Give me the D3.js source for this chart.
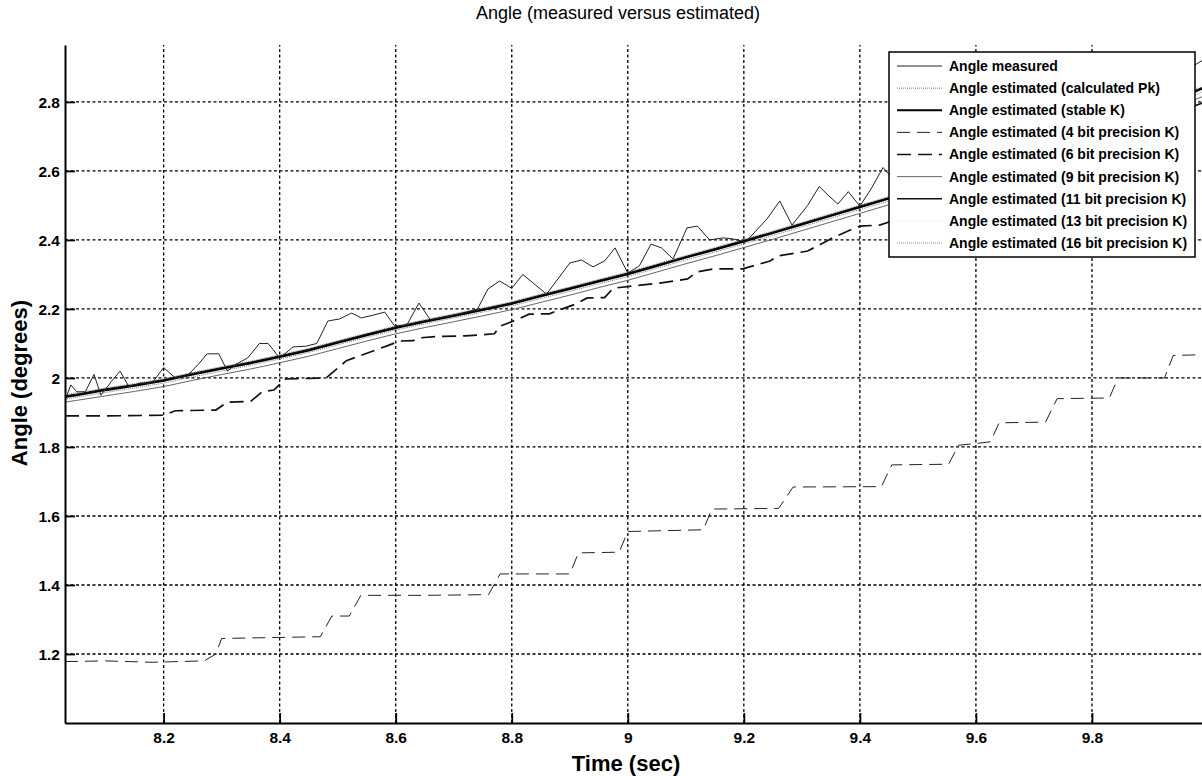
<!DOCTYPE html>
<html>
<head>
<meta charset="utf-8">
<script src="https://cdn.jsdelivr.net/npm/d3@7"></script>
<style>
  body { margin: 0; background: #fff; }
  svg { display: block; font-family: "Liberation Sans", Arial, sans-serif; }
  .tick-label { font-size: 15.5px; font-weight: bold; fill: #000; }
  .legend-text { font-size: 14px; font-weight: bold; fill: #000; }
</style>
</head>
<body>
<svg id="chart" width="1202" height="776"></svg>
<script>
// values
var xTicks = [8.2, 8.4, 8.6, 8.8, 9, 9.2, 9.4, 9.6, 9.8];
var yTicks = [1.2, 1.4, 1.6, 1.8, 2, 2.2, 2.4, 2.6, 2.8];

var timeMeasured = [8.030, 8.040, 8.050, 8.065, 8.080, 8.092, 8.110, 8.125, 8.140, 8.160,
  8.180, 8.200, 8.220, 8.240, 8.260, 8.275, 8.295, 8.310, 8.325, 8.345,
  8.365, 8.380, 8.400, 8.423, 8.445, 8.464, 8.483, 8.503, 8.524, 8.541,
  8.561, 8.581, 8.598, 8.619, 8.640, 8.660, 8.680, 8.700, 8.720, 8.741,
  8.759, 8.779, 8.800, 8.819, 8.860, 8.900, 8.920, 8.940, 8.960, 8.978,
  9.000, 9.020, 9.040, 9.058, 9.078, 9.102, 9.120, 9.141, 9.164, 9.181,
  9.203, 9.240, 9.262, 9.283, 9.310, 9.330, 9.345, 9.362, 9.380, 9.400,
  9.420, 9.440, 9.460, 9.500, 9.550, 9.600, 9.650, 9.700, 9.750, 9.800,
  9.850, 9.900, 9.950, 9.990, 10.00];
var angleMeasured = [1.935, 1.980, 1.960, 1.960, 2.010, 1.950, 1.990, 2.020, 1.975, 1.985,
  1.985, 2.030, 2.000, 2.005, 2.040, 2.070, 2.070, 2.020, 2.040, 2.058,
  2.100, 2.100, 2.058, 2.090, 2.092, 2.100, 2.165, 2.171, 2.188, 2.174,
  2.182, 2.191, 2.151, 2.153, 2.217, 2.168, 2.175, 2.182, 2.190, 2.200,
  2.258, 2.281, 2.260, 2.300, 2.243, 2.333, 2.342, 2.322, 2.339, 2.377,
  2.304, 2.325, 2.388, 2.377, 2.345, 2.435, 2.440, 2.400, 2.406, 2.403,
  2.394, 2.461, 2.513, 2.443, 2.500, 2.555, 2.530, 2.504, 2.540, 2.498,
  2.550, 2.610, 2.570, 2.580, 2.600, 2.640, 2.650, 2.700, 2.720, 2.760,
  2.800, 2.840, 2.880, 2.920, 2.905];

var timeEst = [8.03, 8.05, 8.10, 8.15, 8.20, 8.25, 8.30, 8.35, 8.40, 8.45,
  8.50, 8.55, 8.60, 8.65, 8.70, 8.75, 8.80, 8.85, 8.90, 8.95,
  9.00, 9.05, 9.10, 9.15, 9.20, 9.25, 9.30, 9.35, 9.40, 9.45,
  9.50, 9.55, 9.60, 9.65, 9.70, 9.75, 9.80, 9.85, 9.90, 9.95, 10.00];
var angleCalcPk = [1.938, 1.944, 1.958, 1.971, 1.985, 2.003, 2.020, 2.037, 2.055, 2.074,
  2.096, 2.118, 2.139, 2.157, 2.174, 2.191, 2.209, 2.230, 2.251, 2.273,
  2.294, 2.318, 2.342, 2.365, 2.389, 2.413, 2.438, 2.463, 2.488, 2.513,
  2.538, 2.565, 2.592, 2.618, 2.647, 2.676, 2.704, 2.734, 2.767, 2.800, 2.835];
var angleStableK = [1.945, 1.950, 1.965, 1.978, 1.992, 2.010, 2.027, 2.043, 2.061, 2.080,
  2.102, 2.124, 2.145, 2.163, 2.180, 2.197, 2.215, 2.237, 2.258, 2.280,
  2.301, 2.325, 2.349, 2.372, 2.396, 2.420, 2.445, 2.470, 2.495, 2.520,
  2.545, 2.572, 2.600, 2.626, 2.655, 2.684, 2.712, 2.742, 2.776, 2.810, 2.846];
var angle9bit = [1.930, 1.935, 1.948, 1.961, 1.975, 1.993, 2.010, 2.026, 2.044, 2.063,
  2.085, 2.107, 2.128, 2.146, 2.163, 2.180, 2.198, 2.219, 2.240, 2.262,
  2.283, 2.307, 2.331, 2.354, 2.378, 2.402, 2.427, 2.452, 2.477, 2.502,
  2.527, 2.554, 2.581, 2.607, 2.636, 2.664, 2.692, 2.722, 2.755, 2.788, 2.822];
var angle11bit = [1.948, 1.953, 1.968, 1.981, 1.995, 2.013, 2.030, 2.046, 2.064, 2.083,
  2.105, 2.127, 2.148, 2.166, 2.183, 2.200, 2.218, 2.240, 2.261, 2.283,
  2.304, 2.328, 2.352, 2.375, 2.399, 2.423, 2.448, 2.473, 2.498, 2.523,
  2.548, 2.575, 2.603, 2.629, 2.658, 2.687, 2.715, 2.745, 2.779, 2.813, 2.849];
var angle13bit = [1.946, 1.951, 1.966, 1.979, 1.993, 2.011, 2.028, 2.044, 2.062, 2.081,
  2.103, 2.125, 2.146, 2.164, 2.181, 2.198, 2.216, 2.238, 2.259, 2.281,
  2.302, 2.326, 2.350, 2.373, 2.397, 2.421, 2.446, 2.471, 2.496, 2.521,
  2.546, 2.573, 2.601, 2.627, 2.656, 2.685, 2.713, 2.743, 2.777, 2.811, 2.847];
var angle16bit = [1.952, 1.957, 1.971, 1.984, 1.998, 2.016, 2.033, 2.049, 2.067, 2.086,
  2.108, 2.130, 2.151, 2.169, 2.186, 2.203, 2.221, 2.243, 2.264, 2.286,
  2.307, 2.331, 2.355, 2.378, 2.402, 2.426, 2.451, 2.476, 2.501, 2.526,
  2.551, 2.578, 2.606, 2.632, 2.661, 2.690, 2.718, 2.748, 2.782, 2.816, 2.852];

var time4bit = [8.03, 8.10, 8.18, 8.27, 8.29, 8.30, 8.40, 8.47, 8.49, 8.52,
  8.54, 8.65, 8.76, 8.78, 8.90, 8.915, 8.985, 9.00, 9.13, 9.145,
  9.26, 9.285, 9.437, 9.455, 9.553, 9.57, 9.60, 9.625, 9.64, 9.72,
  9.74, 9.83, 9.845, 9.925, 9.94, 10.0];
var angle4bit = [1.178, 1.180, 1.176, 1.180, 1.200, 1.245, 1.248, 1.250, 1.310, 1.310,
  1.370, 1.370, 1.372, 1.432, 1.432, 1.493, 1.495, 1.555, 1.560, 1.620,
  1.622, 1.684, 1.685, 1.748, 1.750, 1.805, 1.810, 1.815, 1.870, 1.872,
  1.940, 1.942, 2.000, 2.000, 2.065, 2.068];

var time6bit = [8.03, 8.10, 8.20, 8.22, 8.29, 8.31, 8.35, 8.37, 8.39, 8.41,
  8.48, 8.515, 8.585, 8.607, 8.63, 8.64, 8.67, 8.72, 8.77, 8.78,
  8.81, 8.83, 8.865, 8.877, 8.91, 8.93, 8.96, 8.975, 9.01, 9.055,
  9.103, 9.119, 9.147, 9.198, 9.245, 9.26, 9.29, 9.31, 9.343, 9.353,
  9.388, 9.40, 9.434, 9.50, 9.60, 9.70, 9.80, 9.90, 9.99, 10.0];
var angle6bit = [1.890, 1.890, 1.892, 1.905, 1.907, 1.930, 1.932, 1.960, 1.965, 1.997,
  2.000, 2.050, 2.093, 2.107, 2.108, 2.116, 2.120, 2.122, 2.128, 2.150,
  2.170, 2.185, 2.186, 2.194, 2.214, 2.232, 2.233, 2.260, 2.267, 2.275,
  2.287, 2.307, 2.316, 2.316, 2.339, 2.354, 2.362, 2.368, 2.397, 2.406,
  2.432, 2.440, 2.443, 2.480, 2.550, 2.610, 2.670, 2.740, 2.797, 2.800];

var seriesNames = ["Angle measured", "Angle estimated (calculated Pk)", "Angle estimated (stable K)",
  "Angle estimated (4 bit precision K)", "Angle estimated (6 bit precision K)",
  "Angle estimated (9 bit precision K)", "Angle estimated (11 bit precision K)",
  "Angle estimated (13 bit precision K)", "Angle estimated (16 bit precision K)"];

function zipSeries(ts, vs) {
  return ts.map(function(t, i) { return {t: t, v: vs[i]}; });
}

var series = [
  {name: seriesNames[0], data: zipSeries(timeMeasured, angleMeasured), color: "#222", width: 1, dash: null},
  {name: seriesNames[1], data: zipSeries(timeEst, angleCalcPk), color: "#777", width: 1, dash: "1,1"},
  {name: seriesNames[2], data: zipSeries(timeEst, angleStableK), color: "#000", width: 2.2, dash: null},
  {name: seriesNames[3], data: zipSeries(time4bit, angle4bit), color: "#222", width: 1, dash: "13,7"},
  {name: seriesNames[4], data: zipSeries(time6bit, angle6bit), color: "#111", width: 1.7, dash: "14,7"},
  {name: seriesNames[5], data: zipSeries(timeEst, angle9bit), color: "#666", width: 1, dash: null},
  {name: seriesNames[6], data: zipSeries(timeEst, angle11bit), color: "#111", width: 1.3, dash: null},
  {name: seriesNames[7], data: zipSeries(timeEst, angle13bit), color: "#f4f4f4", width: 1, dash: null},
  {name: seriesNames[8], data: zipSeries(timeEst, angle16bit), color: "#888", width: 1, dash: "1,1"}
];

var margin = {top: 45, left: 65, bottom: 53},
    svgW = 1202, svgH = 776,
    plotRight = 1208;

var svg = d3.select("#chart");

var x = d3.scaleLinear().domain([8.03, 10]).range([margin.left, plotRight]);
var y = d3.scaleLinear().domain([1.0, 2.965]).range([svgH - margin.bottom, margin.top]);

svg.append("defs").append("clipPath").attr("id", "plotClip")
  .append("rect")
  .attr("x", margin.left).attr("y", margin.top)
  .attr("width", plotRight - margin.left)
  .attr("height", y(1.0) - margin.top);

// grid
var grid = svg.append("g").attr("class", "grid");
grid.selectAll("line.vgrid").data(xTicks).enter().append("line")
  .attr("x1", function(d) { return x(d); }).attr("x2", function(d) { return x(d); })
  .attr("y1", y(1.0)).attr("y2", margin.top)
  .attr("stroke", "#000").attr("stroke-width", 1.3).attr("stroke-dasharray", "3,2.5");
grid.selectAll("line.hgrid").data(yTicks).enter().append("line")
  .attr("x1", margin.left).attr("x2", plotRight)
  .attr("y1", function(d) { return y(d); }).attr("y2", function(d) { return y(d); })
  .attr("stroke", "#000").attr("stroke-width", 1.3).attr("stroke-dasharray", "3,2.5");

// data lines
var line = d3.line()
  .x(function(d) { return x(d.t); })
  .y(function(d) { return y(d.v); });

var drawOrder = [7, 3, 4, 5, 1, 2, 6, 8, 0];
var lines = svg.append("g").attr("clip-path", "url(#plotClip)");
drawOrder.forEach(function(i) {
  var s = series[i];
  lines.append("path")
    .datum(s.data)
    .attr("fill", "none")
    .attr("stroke", s.color)
    .attr("stroke-width", s.width)
    .attr("stroke-dasharray", s.dash)
    .attr("d", line);
});

// axes
var xAxis = d3.axisBottom(x).tickValues(xTicks).tickSizeInner(-10).tickSizeOuter(0)
  .tickFormat(d3.format("~g"));
var yAxis = d3.axisLeft(y).tickValues(yTicks).tickSizeInner(-10).tickSizeOuter(0)
  .tickFormat(d3.format("~g"));

var gx = svg.append("g").attr("transform", "translate(0," + y(1.0) + ")").call(xAxis);
var gy = svg.append("g").attr("transform", "translate(" + margin.left + ",0)").call(yAxis);
[gx, gy].forEach(function(g) {
  g.select(".domain").attr("stroke", "#000").attr("stroke-width", 2);
  g.selectAll(".tick line").attr("stroke", "#000").attr("stroke-width", 1.8);
  g.selectAll(".tick text").attr("class", "tick-label").attr("font-family", null).attr("font-size", null);
});
gy.selectAll(".tick text").attr("dy", "0.36em").attr("x", -5);
gx.selectAll(".tick text").attr("dy", "0.72em").attr("y", 9);

// titles
svg.append("text")
  .attr("x", 618).attr("y", 19)
  .attr("text-anchor", "middle")
  .style("font-size", "18px")
  .text("Angle (measured versus estimated)");

svg.append("text")
  .attr("x", 626).attr("y", 771)
  .attr("text-anchor", "middle")
  .style("font-size", "22px")
  .style("font-weight", "bold")
  .text("Time (sec)");

svg.append("text")
  .attr("transform", "translate(27,383) rotate(-90)")
  .attr("text-anchor", "middle")
  .style("font-size", "22px")
  .style("font-weight", "bold")
  .text("Angle (degrees)");

// legend
var legend = svg.append("g").attr("transform", "translate(889,52)");
legend.append("rect")
  .attr("width", 306).attr("height", 205)
  .attr("fill", "#fff").attr("stroke", "#000").attr("stroke-width", 1.5);

var rowY = d3.scaleLinear().domain([0, 8]).range([14, 191]);
var rows = legend.selectAll("g.row").data(series).enter().append("g")
  .attr("transform", function(d, i) { return "translate(0," + rowY(i) + ")"; });
rows.append("line")
  .attr("x1", 8).attr("x2", 53)
  .attr("stroke", function(d) { return d.color; })
  .attr("stroke-width", function(d) { return Math.min(d.width, 1.8); })
  .attr("stroke-dasharray", function(d) { return d.dash; });
rows.append("text")
  .attr("class", "legend-text")
  .attr("x", 60).attr("dy", "0.35em")
  .text(function(d) { return d.name; });
</script>
</body>
</html>
